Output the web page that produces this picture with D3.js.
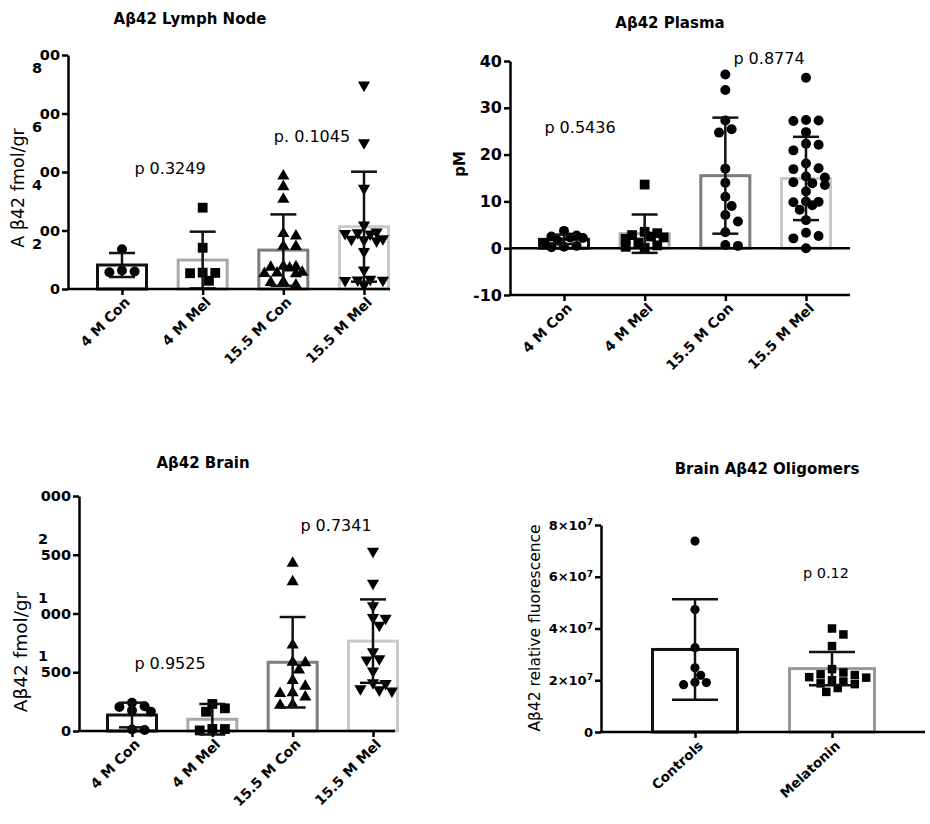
<!DOCTYPE html>
<html>
<head>
<meta charset="utf-8">
<script src="https://cdn.jsdelivr.net/npm/d3@7"></script>
<style>
  body { margin: 0; background: #fff; }
  svg { display: block; }
</style>
</head>
<body>
<svg id="chart" width="930" height="824"></svg>
<script>
// ---- data ----
const groups4 = ['4 M Con', '4 M Mel', '15.5 M Con', '15.5 M Mel'];
const oligoGroups = ['Controls', 'Melatonin'];

// Lymph node (fmol/gr)
const lymphMean = [82, 99, 133, 213];
const lymphSD = [41, 97, 122, 188];
const lymphPts = [
  [136, 60, 57, 63],
  [278, 141, 55, 28, 54, 56],
  [386, 350, 307, 181, 190, 145, 146, 78, 74, 72, 76, 55, 52, 57, 53, 25, 22, 14],
  [697, 500, 344, 219, 195, 190, 188, 192, 170, 165, 168, 172, 128, 65, 33, 30, 31, 29, 14],
];
const lymphTicks = [0, 200, 400, 600, 800];
const lymphTickTail = ['0', '00', '00', '00', '00'];
const lymphTickHead = ['', '2', '4', '6', '8'];

// Plasma (pM)
const plasmaMean = [1.9, 3.1, 15.5, 14.9];
const plasmaSD = [1.0, 4.1, 12.4, 8.9];
const plasmaPts = [
  [3.7, 2.7, 2.5, 2.3, 2.2, 1.6, 1.0, 0.5, 0.3, 0.2],
  [13.6, 3.5, 3.2, 2.8, 2.5, 2.3, 2.0, 1.2, 0.6, 0.3, 0.1],
  [37.1, 33.8, 27.3, 25.4, 24.7, 17.0, 14.0, 11.0, 9.0, 7.1, 5.7, 3.4, 0.5, 0.7],
  [36.4, 27.4, 27.3, 27.2, 24.8, 22.3, 22.1, 20.9, 18.1, 17.1, 16.9, 15.3, 15.1, 14.1, 13.9, 13.5,
   12.1, 10.0, 9.9, 9.2, 9.8, 8.2, 6.0, 2.6, 3.3, 2.1, 0.0],
];
const plasmaTicks = [-10, 0, 10, 20, 30, 40];

// Brain (fmol/gr)
const brainMean = [136, 100, 585, 765];
const brainSD = [105, 130, 385, 355];
const brainPts = [
  [240, 210, 205, 175, 165, 12, 8],
  [230, 193, 164, 17, 5, 18],
  [1427, 1271, 732, 585, 580, 519, 430, 380, 326, 320, 290, 225, 220],
  [1530, 1257, 1065, 965, 960, 900, 675, 615, 605, 510, 410, 405, 350, 360, 340],
];
const brainTicks = [0, 500, 1000, 1500, 2000];
const brainTickTail = ['0', '500', '000', '500', '000'];
const brainTickHead = ['', '1', '1', '2', ''];

// Brain oligomers (relative fluorescence)
const oligoMean = [3.19e7, 2.45e7];
const oligoSD = [1.94e7, 0.64e7];
const oligoPts = [
  [7.38e7, 4.73e7, 3.26e7, 2.48e7, 1.91e7, 1.83e7, 1.92e7, 2.19e7],
  [4.0e7, 3.77e7, 3.32e7, 2.43e7, 2.23e7, 2.1e7, 2.0e7, 1.95e7, 2.12e7, 2.2e7, 2.3e7, 1.85e7, 1.88e7, 1.55e7, 1.7e7],
];
const oligoTicks = [0, 2e7, 4e7, 6e7, 8e7];

// ---- drawing ----
const FONT = '"DejaVu Sans", sans-serif';
const svg = d3.select('#chart');

const shapes = {
  circle: d3.symbol().type(d3.symbolCircle).size(78),
  smallCircle: d3.symbol().type(d3.symbolCircle).size(66),
  square: d3.symbol().type(d3.symbolSquare).size(96),
  smallSquare: d3.symbol().type(d3.symbolSquare).size(72),
  up: d3.symbol().type(d3.symbolTriangle).size(64),
  down: d3.symbol().type(d3.symbolTriangle).size(64),
};

// column scatter: biggest values first, nudge sideways on collision,
// never wider than maxOff; if nothing fits take the least crowded slot
function swarm(vals, y, diam, maxOff) {
  const step = diam * 0.6;
  const minD = diam * 0.9;
  const placed = [];
  const out = new Array(vals.length).fill(0);
  const cands = [0];
  for (let k = 1; k * step <= maxOff; k++) cands.push(k * step, -k * step);
  vals.map((v, i) => i).sort((a, b) => vals[b] - vals[a]).forEach((i) => {
    const py = y(vals[i]);
    let best = 0;
    let bestD = -1;
    for (const dx of cands) {
      const d = placed.length ? Math.min(...placed.map(p => Math.hypot(p.x - dx, p.y - py))) : Infinity;
      if (d >= minD) { best = dx; bestD = Infinity; break; }
      if (d > bestD) { bestD = d; best = dx; }
    }
    placed.push({ x: best, y: py });
    out[i] = best;
  });
  return out;
}

function drawPanel(p) {
  const g = svg.append('g');
  const x = d3.scalePoint().domain(p.groups).range(p.xRange);
  const y = d3.scaleLinear().domain(p.yDomain).range(p.yRange);
  const base = y(Math.max(0, p.yDomain[0]));

  // bars
  g.selectAll('rect.bar').data(p.groups).join('rect')
    .attr('class', 'bar')
    .attr('x', d => x(d) - p.barW / 2)
    .attr('width', p.barW)
    .attr('y', (d, i) => y(p.means[i]))
    .attr('height', (d, i) => base - y(p.means[i]))
    .attr('fill', '#fff')
    .attr('stroke', (d, i) => p.colors[i])
    .attr('stroke-width', 3);

  // points
  p.groups.forEach((grp, i) => {
    const offs = swarm(p.points[i], y, p.diam, p.barW / 2 - 2);
    g.append('g').selectAll('path').data(p.points[i]).join('path')
      .attr('d', shapes[p.shapes[i]])
      .attr('transform', (d, j) => `translate(${x(grp) + offs[j]},${y(d)})${p.shapes[i] === 'down' ? ' rotate(180)' : ''}`)
      .attr('fill', '#000');
  });

  // error bars (mean ± SD)
  const eb = g.append('g').attr('stroke', '#111').attr('stroke-width', 2.5);
  p.groups.forEach((grp, i) => {
    const cx = x(grp);
    const y1 = y(p.means[i] + p.sds[i]);
    const y0 = y(p.means[i] - p.sds[i]);
    eb.append('line').attr('x1', cx).attr('x2', cx).attr('y1', y1).attr('y2', y0);
    eb.append('line').attr('x1', cx - p.cap / 2).attr('x2', cx + p.cap / 2).attr('y1', y1).attr('y2', y1);
    eb.append('line').attr('x1', cx - p.cap / 2).attr('x2', cx + p.cap / 2).attr('y1', y0).attr('y2', y0);
  });

  // zero line when the axis goes below zero
  if (p.yDomain[0] < 0) {
    g.append('line').attr('x1', p.yAxisX).attr('x2', p.xEnd)
      .attr('y1', y(0)).attr('y2', y(0))
      .attr('stroke', '#000').attr('stroke-width', 2.5);
  }

  // y axis
  const ya = g.append('g').attr('transform', `translate(${p.yAxisX},0)`)
    .call(d3.axisLeft(y).tickValues(p.yTicks).tickSize(6).tickSizeOuter(0).tickPadding(2)
      .tickFormat(p.yFormat || (d => d)));
  ya.attr('font-family', FONT).attr('font-size', p.yFontSize || 16).attr('font-weight', 'bold');
  ya.select('.domain').attr('stroke-width', 2.5);
  ya.selectAll('.tick line').attr('stroke-width', 2.5);
  if (p.heads) {
    ya.selectAll('.tick').append('text')
      .attr('fill', '#000')
      .attr('x', p.headDx).attr('y', p.headDy).attr('dy', '0.32em')
      .attr('text-anchor', 'end')
      .text((d, i) => p.heads[i]);
  }
  if (p.sci) {
    ya.selectAll('.tick text').each(function (d) {
      const t = d3.select(this).text('');
      if (d === 0) { t.text('0'); return; }
      t.append('tspan').text(`${d / 1e7}×10`);
      t.append('tspan').attr('dy', '-0.5em').attr('font-size', '0.7em').text('7');
    });
  }

  // x axis
  const xa = g.append('g').attr('transform', `translate(0,${p.xAxisY})`)
    .call(d3.axisBottom(x).tickSize(6).tickSizeOuter(0));
  xa.select('.domain').remove();
  xa.append('line').attr('x1', p.yAxisX - 1).attr('x2', p.xEnd)
    .attr('stroke', '#000').attr('stroke-width', 2.5);
  xa.selectAll('.tick line').attr('stroke-width', 2.5);
  xa.attr('font-family', FONT).attr('font-size', p.xFontSize).attr('font-weight', 'bold');
  xa.selectAll('.tick text')
    .attr('x', -4).attr('y', p.xLabY).attr('dy', '0.35em')
    .attr('text-anchor', 'end')
    .attr('transform', `rotate(${p.xAngle})`);

  // title
  g.append('text').attr('x', p.title.x).attr('y', p.title.y)
    .attr('text-anchor', 'middle').attr('font-family', FONT)
    .attr('font-weight', 'bold').attr('font-size', p.title.size)
    .text(p.title.text);

  // y label
  g.append('text').attr('transform', `translate(${p.yLab.x},${p.yLab.y}) rotate(-90)`)
    .attr('text-anchor', 'middle').attr('font-family', FONT)
    .attr('font-weight', p.yLab.bold ? 'bold' : 'normal').attr('font-size', p.yLab.size)
    .text(p.yLab.text);

  // p-values
  p.pvals.forEach(pv => {
    g.append('text').attr('x', pv.x).attr('y', pv.y).attr('dy', '0.35em')
      .attr('text-anchor', 'middle').attr('font-family', FONT)
      .attr('font-size', pv.size || 16).text(pv.t);
  });
}

const greys4 = ['#111', '#a8a8a8', '#7c7c7c', '#cacaca'];

drawPanel({
  groups: groups4, means: lymphMean, sds: lymphSD, points: lymphPts,
  shapes: ['circle', 'square', 'up', 'down'], colors: greys4,
  yDomain: [0, 800], yRange: [289, 55], xRange: [122, 364],
  yAxisX: 68, xAxisY: 289, xEnd: 390, barW: 49, cap: 26, diam: 10.5,
  yTicks: lymphTicks, yFormat: (d, i) => lymphTickTail[i], yFontSize: 14.5,
  heads: lymphTickHead, headDx: -26, headDy: 13,
  xFontSize: 14, xLabY: 11, xAngle: -45,
  title: { text: 'Aβ42 Lymph Node', x: 190, y: 24, size: 15 },
  yLab: { text: 'A β42 fmol/gr', x: 24, y: 188, size: 17.5 },
  pvals: [{ t: 'p 0.3249', x: 170, y: 168 }, { t: 'p. 0.1045', x: 312, y: 136 }],
});

drawPanel({
  groups: groups4, means: plasmaMean, sds: plasmaSD, points: plasmaPts,
  shapes: ['circle', 'square', 'circle', 'circle'], colors: greys4,
  yDomain: [-10, 40], yRange: [295, 61], xRange: [564, 806],
  yAxisX: 510, xAxisY: 295, xEnd: 850, barW: 49, cap: 26, diam: 10.5,
  yTicks: plasmaTicks,
  xFontSize: 14, xLabY: 11, xAngle: -45,
  title: { text: 'Aβ42 Plasma', x: 670, y: 28, size: 15 },
  yLab: { text: 'pM', x: 465, y: 164, size: 15, bold: true },
  pvals: [{ t: 'p 0.5436', x: 580, y: 127 }, { t: 'p 0.8774', x: 769, y: 58 }],
});

drawPanel({
  groups: groups4, means: brainMean, sds: brainSD, points: brainPts,
  shapes: ['circle', 'square', 'up', 'down'], colors: greys4,
  yDomain: [0, 2000], yRange: [731, 496], xRange: [132, 373],
  yAxisX: 79, xAxisY: 731, xEnd: 395, barW: 49, cap: 26, diam: 10.5,
  yTicks: brainTicks, yFormat: (d, i) => brainTickTail[i], yFontSize: 14.5,
  heads: brainTickHead, headDx: -31, headDy: -16,
  xFontSize: 14, xLabY: 11, xAngle: -45,
  title: { text: 'Aβ42 Brain', x: 203, y: 468, size: 15 },
  yLab: { text: 'Aβ42 fmol/gr', x: 27, y: 652, size: 18.5 },
  pvals: [{ t: 'p 0.9525', x: 170, y: 663 }, { t: 'p 0.7341', x: 336, y: 525 }],
});

drawPanel({
  groups: oligoGroups, means: oligoMean, sds: oligoSD, points: oligoPts,
  shapes: ['smallCircle', 'smallSquare'], colors: ['#111', '#999'],
  yDomain: [0, 8e7], yRange: [732, 525], xRange: [695, 832],
  yAxisX: 601, xAxisY: 732, xEnd: 925, barW: 85, cap: 46, diam: 9.5,
  yTicks: oligoTicks, sci: true, yFontSize: 13,
  xFontSize: 13.5, xLabY: 12, xAngle: -43,
  title: { text: 'Brain Aβ42 Oligomers', x: 767, y: 474, size: 15 },
  yLab: { text: 'Aβ42 relative fluorescence', x: 540, y: 628, size: 15.5 },
  pvals: [{ t: 'p 0.12', x: 826, y: 573, size: 14.5 }],
});
</script>
</body>
</html>
